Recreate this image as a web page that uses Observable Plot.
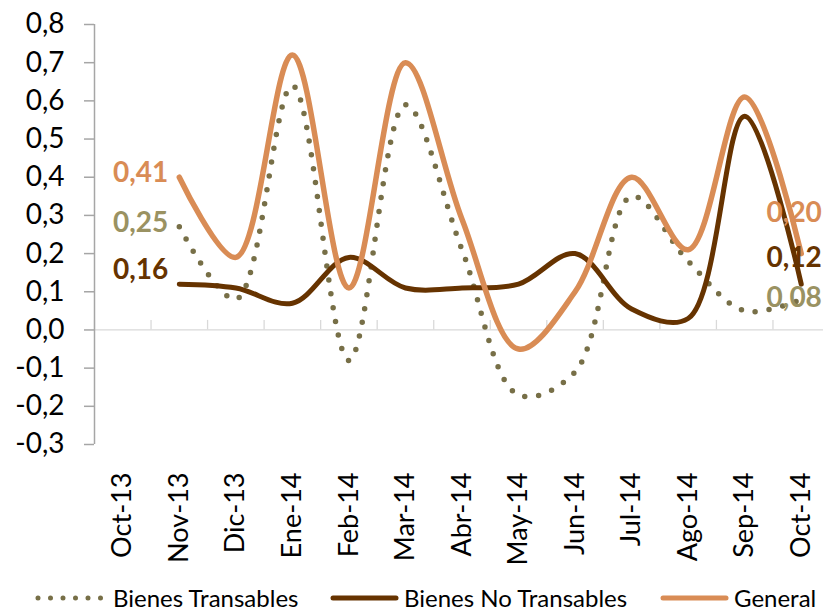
<!DOCTYPE html>
<html>
<head>
<meta charset="utf-8">
<script src="https://cdn.jsdelivr.net/npm/d3@7"></script>
<script src="https://cdn.jsdelivr.net/npm/@observablehq/plot@0.6"></script>
<style>
  html, body { margin: 0; padding: 0; background: #fff; }
  #wrap { position: relative; width: 823px; height: 610px; font-family: Lato, sans-serif; }
  #legend { position: absolute; left: 0; top: 582px; width: 823px; height: 30px; font-size: 24px; color: #000; }
  #legend .item { position: absolute; top: 0; display: flex; align-items: center; height: 30px; }
  #legend svg { display: block; }
</style>
</head>
<body>
<div id="wrap">
  <div id="chart"></div>
  <div id="legend"></div>
</div>
<script>
// ---- data ----
const months = ["Oct-13","Nov-13","Dic-13","Ene-14","Feb-14","Mar-14","Abr-14","May-14","Jun-14","Jul-14","Ago-14","Sep-14","Oct-14"];
const transables   = [null, 0.27, 0.08, 0.64, -0.08, 0.59, 0.21, -0.17, -0.11, 0.35, 0.18, 0.05, 0.08];
const noTransables = [null, 0.12, 0.11, 0.07, 0.19, 0.11, 0.11, 0.12, 0.20, 0.055, 0.03, 0.56, 0.12];
const general      = [null, 0.40, 0.19, 0.72, 0.11, 0.70, 0.29, -0.05, 0.10, 0.40, 0.21, 0.61, 0.20];
const seriesNames  = ["Bienes Transables", "Bienes No Transables", "General"];
const startLabels  = [0.25, 0.16, 0.41];
const endLabels    = [0.08, 0.12, 0.20];
const yTicks = [-0.3, -0.2, -0.1, 0.0, 0.1, 0.2, 0.3, 0.4, 0.5, 0.6, 0.7, 0.8];

const colors = {"Bienes Transables": "#776f47", "Bienes No Transables": "#663300", "General": "#d98c55"};
const labelColors = {"Bienes Transables": "#9a9262", "Bienes No Transables": "#663300", "General": "#d98c55"};

const seriesValues = [transables, noTransables, general];
const rows = [];
seriesNames.forEach((s, k) => seriesValues[k].forEach((v, i) => { if (v != null) rows.push({series: s, i, v}); }));

const fmt = d => d.toFixed(2).replace(".", ",");
const fmt1 = d => (Math.abs(d) < 1e-9 ? 0 : d).toFixed(1).replace(".", ",");

// label anchors: first/last point of each series
const startRows = seriesNames.map((s, k) => {
  const vals = seriesValues[k]; const i = vals.findIndex(v => v != null);
  return {series: s, i, v: vals[i], text: fmt(startLabels[k])};
});
const endRows = seriesNames.map((s, k) => {
  const vals = seriesValues[k]; const i = vals.length - 1;
  return {series: s, i, v: vals[i], text: fmt(endLabels[k])};
});
const startDy = {"Bienes Transables": -4, "Bienes No Transables": -14, "General": -4};
const endDy = {"Bienes Transables": -1, "Bienes No Transables": -26, "General": -41};

const xDomain = [-0.5, months.length - 0.5];
const boundaries = d3.range(months.length + 1).map(i => i - 0.5);

const lineMark = (name, opts) => Plot.line(rows.filter(r => r.series === name), {
  x: "i", y: "v", curve: "catmull-rom", stroke: colors[name], ...opts
});

const chart = Plot.plot({
  width: 823,
  height: 580,
  marginTop: 24,
  marginBottom: 136,
  marginLeft: 94,
  marginRight: -6,
  style: {fontFamily: "Lato, sans-serif", background: "#fff", overflow: "visible"},
  x: {domain: xDomain, axis: null},
  y: {domain: [-0.3, 0.8], axis: null},
  marks: [
    Plot.ruleY([0], {stroke: "#d9d9d9", strokeWidth: 1.3}),
    Plot.ruleX(boundaries, {y1: 0, y2: 0.025, stroke: "#d9d9d9", strokeWidth: 1.3}),
    Plot.ruleX([xDomain[0]], {y1: -0.3, y2: 0.8, stroke: "#a6a6a6", strokeWidth: 1.5}),
    Plot.axisY({ticks: yTicks, tickFormat: fmt1, tickSize: 10, tickPadding: 20, fontSize: 28, stroke: "#a6a6a6", strokeWidth: 1.5, color: "#000", label: null}),
    Plot.axisX({ticks: d3.range(months.length), tickFormat: i => months[i], tickRotate: -90, tickSize: 0, tickPadding: 28, fontSize: 27, anchor: "bottom", color: "#000", label: null}),
    lineMark("Bienes Transables", {strokeWidth: 5.5, strokeDasharray: "0 14", strokeLinecap: "round"}),
    lineMark("Bienes No Transables", {strokeWidth: 5}),
    lineMark("General", {strokeWidth: 5.5}),
    ...seriesNames.map(s => Plot.text(startRows.filter(r => r.series === s), {
      x: "i", y: "v", text: "text", textAnchor: "end", dx: -11, dy: startDy[s],
      fill: labelColors[s], fontSize: 28, fontWeight: "bold"
    })),
    ...seriesNames.map(s => Plot.text(endRows.filter(r => r.series === s), {
      x: "i", y: "v", text: "text", textAnchor: "middle", dx: -7, dy: endDy[s],
      fill: labelColors[s], fontSize: 28, fontWeight: "bold"
    }))
  ]
});
document.getElementById("chart").appendChild(chart);

// ---- legend ----
const legend = document.getElementById("legend");
const legendLayout = [
  {name: "Bienes Transables", left: 35, w: 70, dotted: true},
  {name: "Bienes No Transables", left: 330, w: 66, dotted: false},
  {name: "General", left: 660, w: 66, dotted: false}
];
legendLayout.forEach(d => {
  const item = document.createElement("div");
  item.className = "item";
  item.style.left = d.left + "px";
  const sw = d3.create("svg").attr("width", d.w + 8).attr("height", 30);
  sw.append("line").attr("x1", 3).attr("x2", d.w).attr("y1", 16).attr("y2", 16)
    .attr("stroke", colors[d.name]).attr("stroke-width", 5)
    .attr("stroke-linecap", "round")
    .attr("stroke-dasharray", d.dotted ? "0 12.5" : null);
  item.appendChild(sw.node());
  const t = document.createElement("span");
  t.textContent = d.name;
  item.appendChild(t);
  legend.appendChild(item);
});
</script>
</body>
</html>
